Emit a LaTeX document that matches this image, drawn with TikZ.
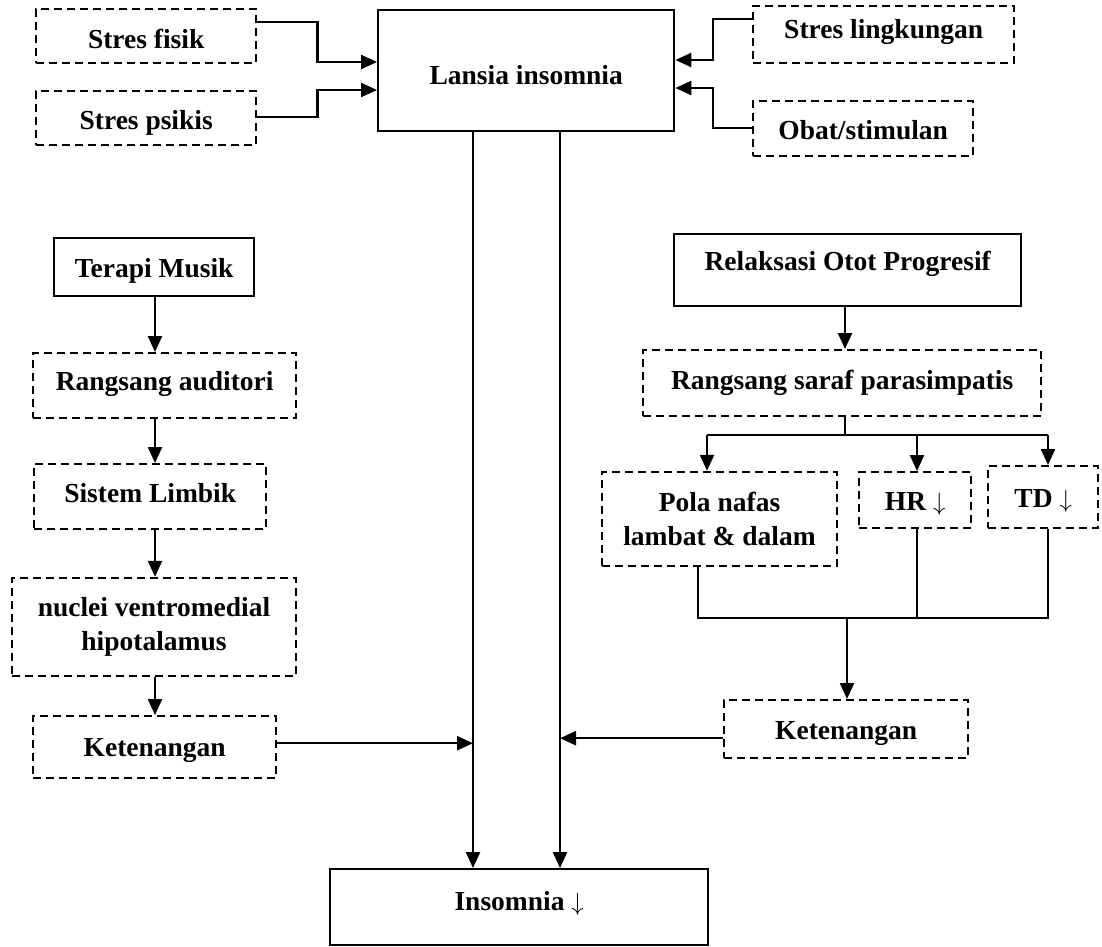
\documentclass[tikz,border=0pt]{standalone}
\usepackage{fontspec}
\setmainfont{Liberation Serif}
\usetikzlibrary{arrows.meta}
\begin{document}
\begin{tikzpicture}[x=1pt,y=-1pt,
  every node/.style={font=\fontsize{27.5}{34}\selectfont\bfseries},
  solidbox/.style={draw,line width=2.4pt,inner sep=0pt,anchor=north west,align=center},
  dashbox/.style={solidbox,dash pattern=on 8pt off 5pt},
  mlbox/.style={draw,line width=2.4pt,inner sep=0pt,align=center,dash pattern=on 8pt off 5pt},
  conn/.style={line width=2.4pt},
  arr/.style={conn,-{Triangle[length=16pt,width=14pt]}}]
\useasboundingbox (0,0) rectangle (1102,946);
% top row
\node[dashbox,minimum width=220pt,text height=39pt,text depth=15pt] (fisik) at (35,8) {Stres fisik};
\node[dashbox,minimum width=220pt,text height=38pt,text depth=16pt] (psikis) at (35,90) {Stres psikis};
\node[solidbox,minimum width=296pt,text height=74pt,text depth=47pt] (lansia) at (377,9) {Lansia insomnia};
\node[dashbox,minimum width=261pt,text height=32pt,text depth=25pt] (lingk) at (752,5) {Stres lingkungan};
\node[dashbox,minimum width=220pt,text height=38pt,text depth=17pt] (obat) at (752,100) {Obat/stimulan};
% left chain
\node[solidbox,minimum width=200pt,text height=39pt,text depth=19pt] (terapi) at (53,237) {Terapi Musik};
\node[dashbox,minimum width=263pt,text height=37pt,text depth=28pt] (raud) at (32,352) {Rangsang auditori};
\node[dashbox,minimum width=232pt,text height=38pt,text depth=27pt] (limbik) at (33,463) {Sistem Limbik};
\node[mlbox,minimum width=284pt,minimum height=98pt] (nuclei) at (154,627) {nuclei ventromedial\\hipotalamus};
\node[dashbox,minimum width=243pt,text height=40pt,text depth=22pt] (ketL) at (32,715) {Ketenangan};
% right chain
\node[solidbox,minimum width=347pt,text height=36pt,text depth=36pt] (relak) at (673,233) {Relaksasi Otot Progresif};
\node[dashbox,minimum width=398pt,text height=39pt,text depth=27pt] (rsaraf) at (642,349) {Rangsang saraf parasimpatis};
\node[mlbox,minimum width=235pt,minimum height=94pt] (pola) at (719.5,519) {Pola nafas\\lambat \& dalam};
\node[dashbox,minimum width=112pt,text height=38pt,text depth=18pt] (hr) at (858,471) {HR $\downarrow$};
\node[dashbox,minimum width=110pt,text height=41pt,text depth=21pt] (td) at (987,465) {TD $\downarrow$};
\node[dashbox,minimum width=244pt,text height=39pt,text depth=19pt] (ketR) at (723,699) {Ketenangan};
% bottom
\node[solidbox,minimum width=378pt,text height=41pt,text depth=35pt] (insom) at (329,868) {Insomnia $\downarrow$};
% top connectors
\draw[arr] ([yshift=-14pt]fisik.north east) -- ++(60,0) |- ([yshift=-53pt]lansia.north west);
\draw[arr] ([yshift=-27pt]psikis.north east) -- ++(60,0) |- ([yshift=-81pt]lansia.north west);
\draw[arr] ([yshift=-14pt]lingk.north west) -- ++(-39,0) |- ([yshift=-51pt]lansia.north east);
\draw[arr] ([yshift=-28pt]obat.north west) -- ++(-39,0) |- ([yshift=-79pt]lansia.north east);
% main verticals
\coordinate (v1) at ([xshift=96pt]lansia.south west);
\coordinate (v2) at ([xshift=183pt]lansia.south west);
\draw[arr] (v1) -- (v1 |- insom.north);
\draw[arr] (v2) -- (v2 |- insom.north);
% left chain connectors
\coordinate (lx) at (155,0);
\draw[arr] (terapi.south -| lx) -- (raud.north -| lx);
\draw[arr] (raud.south -| lx) -- (limbik.north -| lx);
\draw[arr] (limbik.south -| lx) -- (nuclei.north -| lx);
\draw[arr] (nuclei.south -| lx) -- (ketL.north -| lx);
\coordinate (kl) at ([yshift=4pt]ketL.east);
\draw[arr] (kl) -- (kl -| v1);
% right chain connectors
\coordinate (rx) at (845,0);
\draw[arr] (relak.south -| rx) -- (rsaraf.north -| rx);
\coordinate (b1) at (707,435);
\coordinate (b2) at (917,435);
\coordinate (b3) at (1048,435);
\draw[conn] (rsaraf.south -| rx) -- (b1 -| rx);
\draw[conn] (b1) -- (b3);
\draw[arr] (b1) -- (b1 |- pola.north);
\draw[arr] (b2) -- (b2 |- hr.north);
\draw[arr] (b3) -- (b3 |- td.north);
\coordinate (c1) at (698,618);
\coordinate (c2) at (917,618);
\coordinate (c3) at (1048,618);
\coordinate (c0) at (847,618);
\draw[conn] (c1 |- pola.south) -- (c1) -- (c3) -- (c3 |- td.south);
\draw[conn] (c2 |- hr.south) -- (c2);
\draw[arr] (c0) -- (c0 |- ketR.north);
\coordinate (kr) at ([yshift=-9pt]ketR.west);
\draw[arr] (kr) -- (kr -| v2);
\end{tikzpicture}
\end{document}
